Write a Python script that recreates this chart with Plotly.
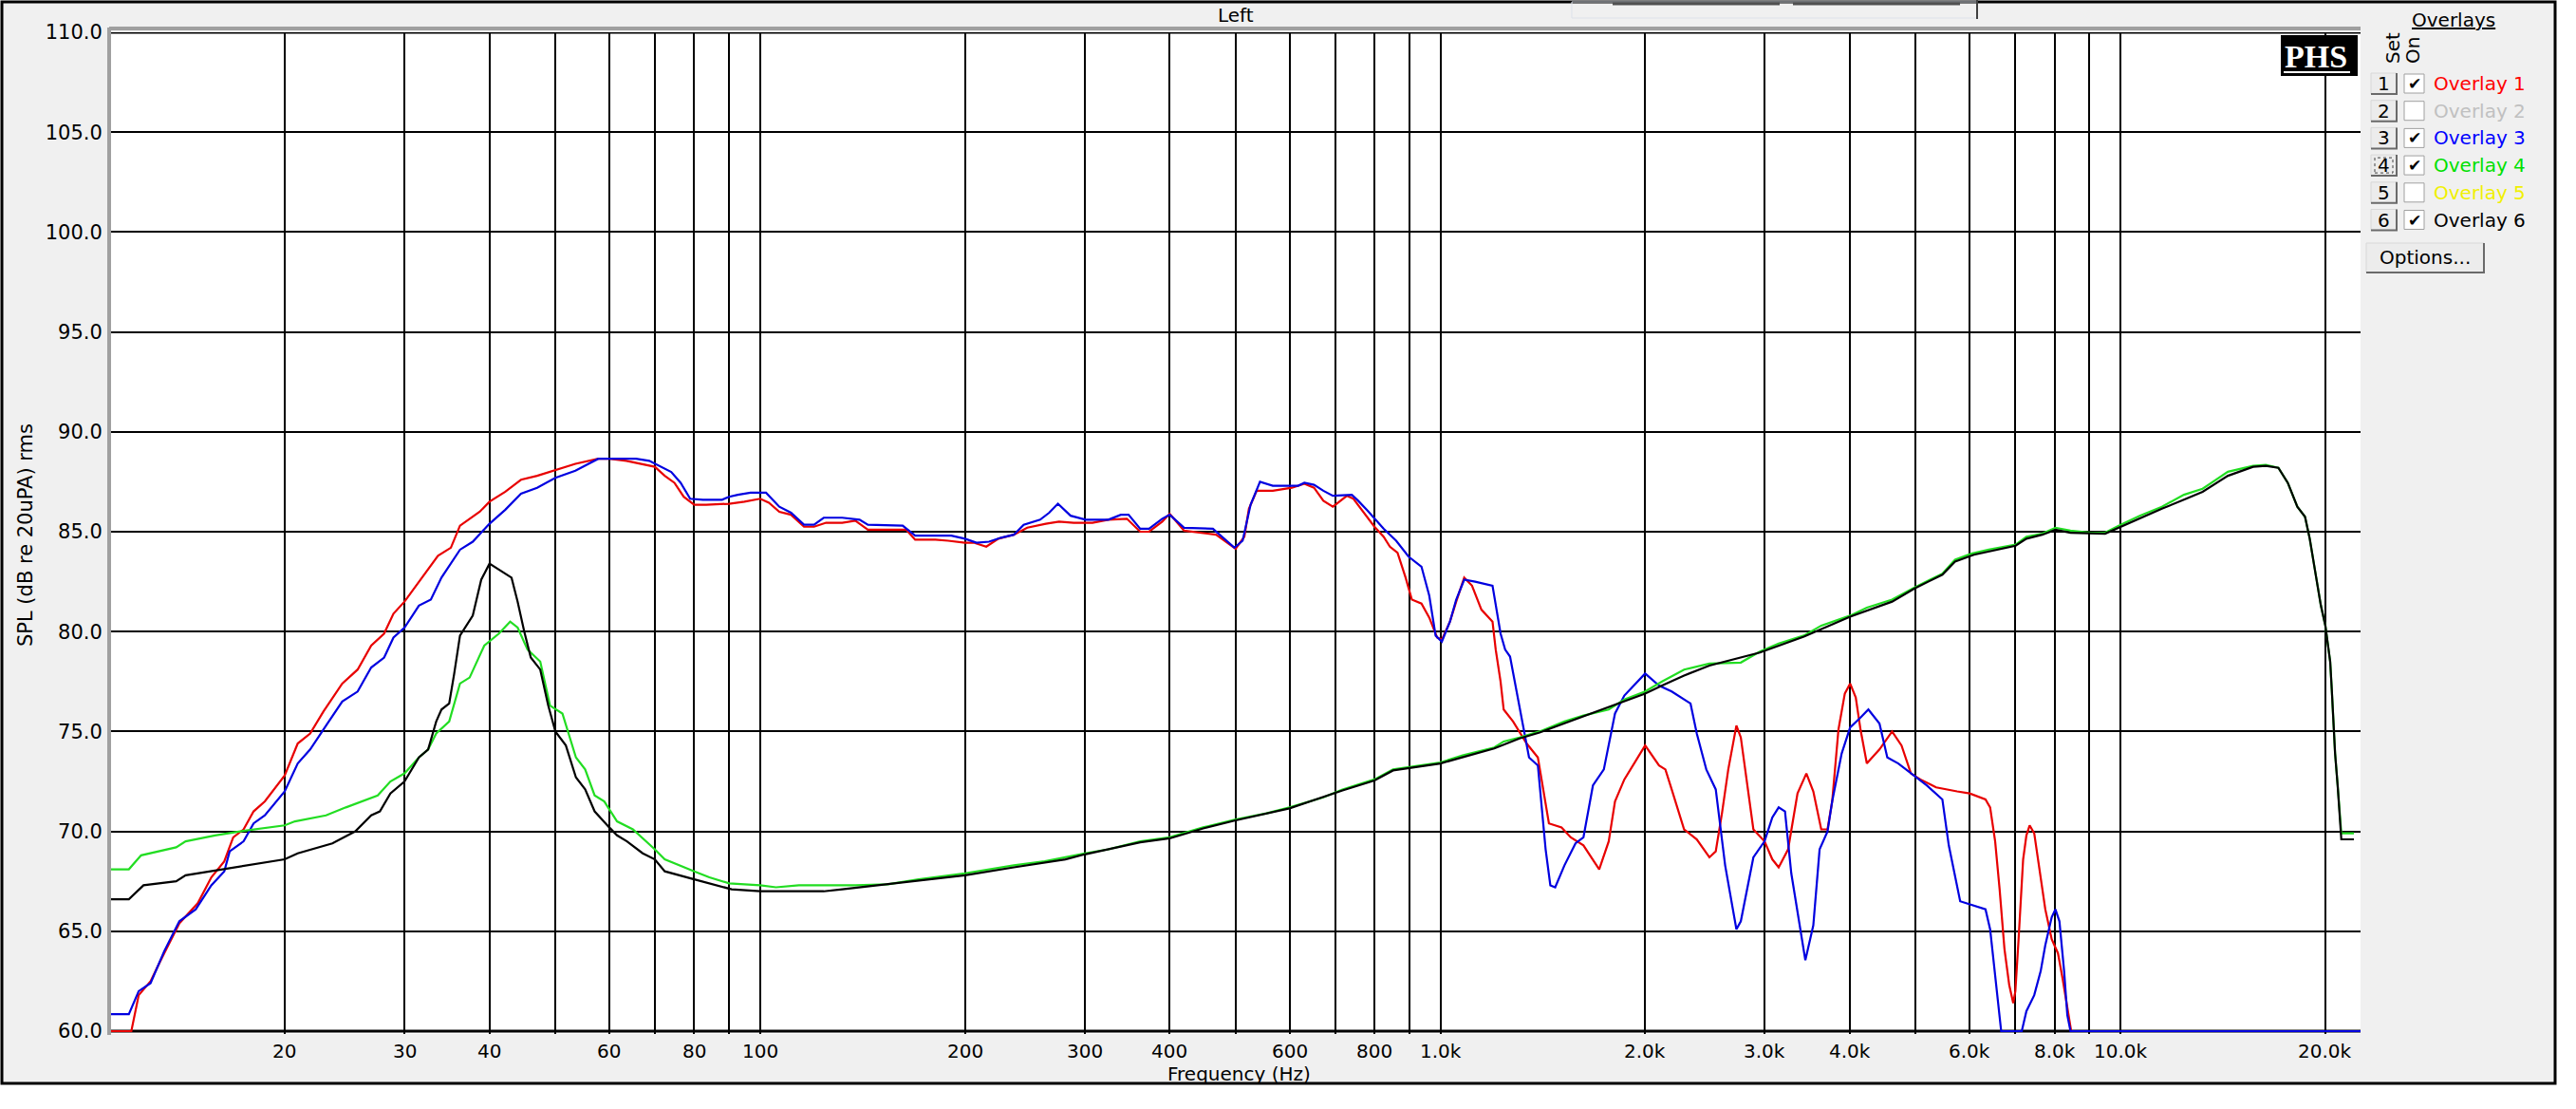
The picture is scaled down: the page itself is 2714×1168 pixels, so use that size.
import numpy as np
import plotly.graph_objects as go

# ---- data (frequency in Hz, level in dB) ----
red_f = [11.1, 11.9, 12.2, 12.7, 13.3, 14.0, 14.9, 15.6, 16.3, 16.8, 17.4, 18.0, 18.7, 20.0,
         20.9, 21.8, 22.8, 24.3, 25.6, 26.8, 28.0, 28.9, 30.0, 31.5, 33.6, 35.1, 36.2, 38.7,
         40.0, 42.2, 44.5, 47.0, 50.0, 53.5, 57.8, 60.0, 63.6, 65.7, 68.6, 70.0, 72.4, 74.8,
         77.2, 80.0, 83.3, 90.0, 94.8, 100, 103, 106.7, 111, 116, 120, 125, 132, 138, 144,
         164, 169, 181, 189, 200, 206, 215, 224, 236, 247, 263, 275, 289, 308, 325, 346, 362,
         373, 390, 400, 420, 468, 488, 500, 515, 523, 537, 567, 605, 631, 652, 673, 695, 729,
         745, 765, 800, 825, 843, 865, 889, 908, 938, 963, 989, 1005, 1033, 1055, 1084, 1113,
         1149, 1193, 1206, 1226, 1239, 1279, 1311, 1339, 1391, 1413, 1444, 1507, 1555, 1623,
         1712, 1768, 1806, 1864, 2000, 2096, 2142, 2188, 2282, 2382, 2486, 2540, 2594, 2650,
         2724, 2765, 2885, 2996, 3076, 3143, 3245, 3350, 3452, 3534, 3630, 3708, 3767, 3848,
         3932, 4003, 4080, 4146, 4236, 4421, 4614, 4764, 4918, 5078, 5356, 5750, 6000, 6330,
         6430, 6540, 6640, 6750, 6860, 6953, 7003, 7080, 7190, 7270, 7350, 7465, 7590, 7750,
         7920, 8090, 8220, 8310, 8395, 8460, 22530]
red_db = [60.0, 60.0, 61.8, 62.5, 63.9, 65.4, 66.4, 67.7, 68.5, 69.7, 70.1, 71.0, 71.5, 72.8,
          74.4, 74.9, 76.0, 77.4, 78.1, 79.3, 79.9, 80.9, 81.5, 82.5, 83.8, 84.2, 85.3, 86.0,
          86.5, 87.0, 87.6, 87.8, 88.1, 88.4, 88.65, 88.65, 88.55, 88.45, 88.3, 88.25, 87.8, 87.45,
          86.75, 86.35, 86.35, 86.4, 86.5, 86.65, 86.45, 86.0, 85.85, 85.25, 85.25, 85.45, 85.45, 85.55, 85.1,
          85.1, 84.6, 84.6, 84.55, 84.45, 84.45, 84.25, 84.65, 84.85, 85.2, 85.4, 85.5, 85.45, 85.45, 85.6, 85.65, 85.0,
          85.0, 85.5, 85.9, 85.05, 84.85, 84.4, 84.15, 84.75, 86.15, 87.05, 87.05, 87.2, 87.4, 87.2, 86.55, 86.25, 86.8,
          86.65, 86.15, 85.25, 84.75, 84.25, 83.95, 82.7, 81.6, 81.4, 80.7, 79.7, 79.6, 80.5, 81.5, 82.7, 82.3,
          81.1, 80.5, 79.1, 77.5, 76.1, 75.5, 74.9, 74.4, 73.7, 72.3, 70.4, 70.2, 69.7, 69.3,
          68.1, 69.5, 71.5, 72.6, 74.3, 73.3, 73.1, 72.1, 70.1, 69.6, 68.7, 69.0, 70.9, 73.1,
          75.3, 74.7, 70.1, 69.5, 68.6, 68.2, 69.1, 71.9, 72.9, 72.0, 70.1, 70.1, 71.5, 75.1,
          76.9, 77.4, 76.7, 75.1, 73.4, 74.1, 75.0, 74.3, 72.9, 72.6, 72.2, 72.0, 71.9, 71.6,
          71.2, 69.5, 67.1, 64.1, 62.3, 61.4, 62.0, 64.6, 68.6, 69.8, 70.3, 69.9, 68.1, 66.1,
          64.6, 63.9, 62.6, 61.6, 60.6, 60.0, 60.0]

blue_f = [11.1, 11.8, 12.2, 12.7, 13.3, 14.0, 14.8, 15.6, 16.3, 16.6, 17.4, 18.0, 18.7, 20.0,
          20.9, 21.8, 22.8, 24.3, 25.6, 26.8, 28.0, 28.9, 30.0, 31.5, 32.8, 34.0, 36.2, 37.8,
          40.0, 42.2, 44.5, 47.0, 50.0, 53.5, 57.8, 65.7, 68.7, 71.6, 74.0, 76.4, 78.9, 82.4,
          87.9, 90.0, 92.7, 96.8, 102, 106.7, 111, 116, 120, 124, 132, 140, 144, 162, 169, 191,
          200, 208, 217, 226, 236, 244, 258, 266, 274, 286, 301, 325, 339, 348, 362, 373, 390,
          400, 420, 463, 478, 498, 512, 526, 543, 567, 618, 631, 652, 673, 695, 741, 757, 782,
          825, 861, 898, 938, 963, 984, 1005, 1033, 1055, 1084, 1125, 1193, 1226, 1245, 1266,
          1307, 1328, 1350, 1391, 1413, 1428, 1451, 1475, 1522, 1580, 1623, 1676, 1739, 1806,
          1864, 2000, 2096, 2188, 2332, 2382, 2460, 2540, 2622, 2724, 2765, 2885, 2996, 3076,
          3143, 3211, 3280, 3350, 3440, 3534, 3610, 3708, 3767, 3890, 4003, 4146, 4258, 4421,
          4540, 4712, 4972, 5188, 5470, 5590, 5810, 6330, 6430, 6570, 6675, 7157, 7270, 7465,
          7630, 7750, 7920, 8020, 8130, 8260, 8350, 8440, 22530]
blue_db = [60.85, 60.85, 62.0, 62.4, 64.0, 65.5, 66.1, 67.3, 68.0, 69.0, 69.5, 70.4, 70.8, 72.0,
           73.4, 74.1, 75.1, 76.5, 77.0, 78.2, 78.7, 79.7, 80.2, 81.3, 81.6, 82.7, 84.1, 84.5,
           85.4, 86.1, 86.9, 87.2, 87.7, 88.05, 88.65, 88.65, 88.55, 88.25, 87.99, 87.45, 86.65, 86.6,
           86.6, 86.75, 86.85, 86.95, 86.95, 86.25, 85.95, 85.35, 85.35, 85.7, 85.7, 85.6, 85.35, 85.3, 84.8, 84.8,
           84.65, 84.45, 84.5, 84.7, 84.85, 85.35, 85.6, 85.95, 86.4, 85.8, 85.6, 85.6, 85.85, 85.85, 85.15, 85.15, 85.65,
           85.85, 85.2, 85.15, 84.75, 84.2, 84.55, 86.35, 87.5, 87.3, 87.3, 87.45, 87.35, 87.05, 86.8, 86.85, 86.55, 86.05,
           85.15, 84.55, 83.75, 83.25, 81.8, 79.8, 79.5, 80.5, 81.6, 82.6, 82.5, 82.3, 79.9, 79.1, 78.75,
           76.3, 74.9, 73.7, 73.3, 70.7, 69.1, 67.3, 67.2, 68.3, 69.4, 69.7, 72.3, 73.1, 75.9,
           76.8, 77.9, 77.3, 77.0, 76.4, 74.9, 73.1, 72.1, 68.3, 65.1, 65.5, 68.7, 69.5, 70.7,
           71.2, 71.0, 67.9, 65.9, 63.55, 65.3, 69.1, 70.0, 71.5, 73.9, 75.2, 75.7, 76.1, 75.4,
           73.7, 73.4, 72.8, 72.3, 71.6, 69.3, 66.5, 66.1, 65.1, 62.3, 60.0, 60.0, 61.0, 61.8,
           63.0, 64.3, 65.7, 66.1, 65.5, 63.0, 60.8, 60.0, 60.0]

green_f = [11.1, 11.8, 12.3, 13.85, 14.3, 15.8, 17.2, 20.0, 20.7, 23.0, 24.6, 27.4, 28.6, 30.0,
           31.5, 32.5, 33.4, 34.9, 36.2, 37.4, 39.3, 40.0, 41.3, 42.9, 44.0, 45.5, 47.5, 49.1,
           51.2, 53.6, 55.3, 57.1, 59.0, 61.6, 65.0, 70.0, 72.4, 80.0, 84.2, 90.0, 100, 105.5,
           114, 138, 154, 171, 200, 236, 262, 300, 325, 362, 400, 448, 500, 555, 600, 673, 718,
           800, 852, 1000, 1078, 1200, 1239, 1307, 1399, 1522, 1623, 1768, 1864, 2000, 2118,
           2282, 2486, 2765, 2949, 3143, 3423, 3630, 4003, 4236, 4614, 4972, 5470, 5710, 6034,
           6400, 7010, 7270, 7670, 8020, 8440, 9040, 9490, 10000, 10670, 11500, 12390, 13200,
           14380, 15660, 16350, 17060, 17610, 18190, 18670, 18970, 19390, 19700, 20000, 20330,
           20440, 20560, 20670, 20850, 21000, 21110, 22030]
green_db = [68.1, 68.1, 68.8, 69.2, 69.5, 69.8, 70.0, 70.3, 70.5, 70.8, 71.2, 71.8, 72.5, 72.9,
            73.7, 74.1, 74.9, 75.5, 77.4, 77.7, 79.3, 79.5, 79.9, 80.5, 80.2, 79.1, 78.5, 76.3,
            75.9, 73.7, 73.1, 71.8, 71.5, 70.5, 70.1, 69.1, 68.6, 68.0, 67.7, 67.4, 67.3, 67.2,
            67.3, 67.3, 67.35, 67.6, 67.9, 68.3, 68.5, 68.9, 69.1, 69.5, 69.7, 70.2, 70.6, 70.9, 71.2, 71.7, 72.1,
            72.6, 73.1, 73.45, 73.8, 74.2, 74.5, 74.7, 75.0, 75.5, 75.8, 76.1, 76.6, 77.0, 77.5,
            78.1, 78.4, 78.45, 79.0, 79.4, 79.8, 80.3, 80.8, 81.2, 81.6, 82.2, 82.9, 83.6, 83.9,
            84.1, 84.35, 84.75, 84.9, 85.2, 85.05, 84.95, 84.95, 85.35, 85.8, 86.25, 86.85, 87.15,
            88.0, 88.3, 88.35, 88.2, 87.45, 86.25, 85.75, 84.65, 82.7, 81.3, 80.3, 78.5,
            77.1, 75.5, 73.9, 72.3, 70.7, 69.9, 69.9]

black_f = [11.1, 11.8, 12.4, 13.85, 14.3, 16.3, 20.0, 20.9, 23.5, 25.4, 26.8, 27.6, 28.6, 30.0,
           31.5, 32.5, 33.4, 34.0, 34.9, 35.5, 36.2, 37.8, 38.9, 40.0, 43.1, 44.0, 45.0, 46.0,
           47.5, 48.8, 50.0, 51.8, 53.6, 55.3, 57.1, 60.0, 61.6, 63.7, 67.2, 70.0, 72.4, 80.0,
           84.2, 90.8, 100, 124, 132, 154, 200, 236, 281, 300, 362, 400, 448, 500, 600, 718, 800,
           852, 1000, 1200, 1307, 1399, 1623, 2000, 2118, 2282, 2486, 2765, 2949, 3423, 4003,
           4614, 4972, 5470, 5710, 6086, 7010, 7270, 7670, 8020, 8440, 9490, 10000, 11500,
           12390, 13200, 14380, 15660, 16350, 17060, 17610, 18190, 18670, 18970, 19390, 19700,
           20000, 20330, 20440, 20560, 20670, 20850, 21000, 21110, 22030]
black_db = [66.6, 66.6, 67.3, 67.5, 67.8, 68.1, 68.6, 68.9, 69.4, 70.0, 70.8, 71.0, 71.9, 72.5,
            73.7, 74.1, 75.5, 76.1, 76.4, 77.9, 79.8, 80.8, 82.6, 83.4, 82.7, 81.5, 80.0, 78.7,
            78.1, 76.3, 75.0, 74.3, 72.7, 72.1, 71.0, 70.2, 69.8, 69.5, 68.9, 68.6, 68.0, 67.6,
            67.4, 67.1, 67.0, 67.0, 67.1, 67.35, 67.8, 68.2, 68.6, 68.85, 69.45, 69.65, 70.15, 70.55, 71.15, 72.05, 72.55,
            73.05, 73.4, 74.15, 74.65, 74.95, 75.75, 76.9, 77.3, 77.8, 78.3, 78.7, 78.95, 79.75, 80.75,
            81.5, 82.15, 82.85, 83.5, 83.85, 84.3, 84.65, 84.85, 85.1, 84.95, 84.9, 85.25, 86.15,
            86.6, 87.0, 87.8, 88.25, 88.3, 88.2, 87.45, 86.25, 85.75, 84.65, 82.7, 81.3,
            80.3, 78.5, 77.1, 75.5, 73.9, 72.3, 70.7, 69.6, 69.6]

grid_f = [20, 30, 40, 50, 60, 70, 80, 90, 100, 200, 300, 400, 500, 600, 700, 800, 900,
          1000, 2000, 3000, 4000, 5000, 6000, 7000, 8000, 9000, 10000, 20000]
grid_lbl = ["20", "30", "40", "", "60", "", "80", "", "100", "200", "300", "400", "", "600", "",
            "800", "", "1.0k", "2.0k", "3.0k", "4.0k", "", "6.0k", "", "8.0k", "", "10.0k", "20.0k"]
y_ticks = [60, 65, 70, 75, 80, 85, 90, 95, 100, 105, 110]

overlay_names = ["Overlay 1", "Overlay 2", "Overlay 3", "Overlay 4", "Overlay 5", "Overlay 6"]
overlay_cols = ["#ff0000", "#c0c0c0", "#0000ff", "#00e000", "#f0f000", "#000000"]
overlay_on = [True, False, True, True, False, True]

# ---- pixel layout helpers (plot area in page pixels) ----
W, H = 2714, 1168
L, R, T, B = 117, 2487, 34, 1089      # 60 dB sits at y=1086, a few px above the bottom edge
Y_LO = 60 - 3 * 50 / (1086 - T)


def fx(X):
    return (X - L) / (R - L)


def fy(Y):
    return (B - Y) / (B - T)


FONT = "DejaVu Sans"

fig = go.Figure()
for f, db, col in [(red_f, red_db, "#e80000"), (blue_f, blue_db, "#0000e0"),
                   (green_f, green_db, "#22dd22"), (black_f, black_db, "#000000")]:
    fig.add_trace(go.Scatter(x=f, y=db, mode="lines", line=dict(color=col, width=2.2),
                             showlegend=False, hoverinfo="skip"))

shapes = []
ann = []

# app frame, then white plot area on top of it (both under the grid)
shapes.append(dict(type="rect", xref="paper", yref="paper", x0=fx(2), x1=fx(2692),
                   y0=fy(1141), y1=fy(2), fillcolor="#f0f0f0", line=dict(width=0), layer="below"))
shapes.append(dict(type="rect", xref="paper", yref="paper", x0=0, x1=1, y0=0, y1=1,
                   fillcolor="white", line=dict(width=0), layer="below"))
for yv in (60, 110):
    shapes.append(dict(type="line", xref="paper", yref="y", x0=0, x1=1, y0=yv, y1=yv,
                       line=dict(color="black", width=3), layer="below"))
shapes.append(dict(type="rect", xref="paper", yref="paper", x0=fx(2), x1=fx(2692),
                   y0=fy(1141), y1=fy(2), line=dict(color="black", width=3), layer="above"))
# top strip oddments
shapes.append(dict(type="rect", xref="paper", yref="paper", x0=fx(1656), x1=fx(2083),
                   y0=fy(19), y1=fy(2), line=dict(color="#dde2ea", width=1), layer="above"))
for a, b in [(1699, 1875), (1889, 2065)]:
    shapes.append(dict(type="line", xref="paper", yref="paper", x0=fx(a), x1=fx(b),
                       y0=fy(4), y1=fy(4), line=dict(color="#505050", width=3)))
shapes.append(dict(type="line", xref="paper", yref="paper", x0=fx(2083), x1=fx(2083),
                   y0=fy(0), y1=fy(20), line=dict(color="#404040", width=2)))

# plot border (grey, sunken look)
shapes.append(dict(type="line", xref="paper", yref="paper", x0=fx(115), x1=fx(115),
                   y0=fy(1090), y1=fy(29), line=dict(color="#a0a0a0", width=4)))
shapes.append(dict(type="line", xref="paper", yref="paper", x0=fx(115), x1=fx(R),
                   y0=fy(30), y1=fy(30), line=dict(color="#a0a0a0", width=4)))

# PHS logo
shapes.append(dict(type="rect", xref="paper", yref="paper", x0=fx(2403), x1=fx(2484),
                   y0=fy(80), y1=fy(37), fillcolor="black", line=dict(width=0), layer="above"))
shapes.append(dict(type="line", xref="paper", yref="paper", x0=fx(2406), x1=fx(2476),
                   y0=fy(76), y1=fy(76), line=dict(color="white", width=2)))
ann.append(dict(text="<b>PHS</b>", x=fx(2440), y=fy(59), font=dict(family="Liberation Serif", size=34, color="white")))

# axis titles and header
ann.append(dict(text="Left", x=fx(1302), y=fy(16), font=dict(family=FONT, size=20, color="black")))
ann.append(dict(text="Frequency (Hz)", x=fx(1305), y=fy(1131), font=dict(family=FONT, size=20, color="black")))
ann.append(dict(text="SPL (dB re 20uPA) rms", x=fx(27), y=fy(564), textangle=-90,
                font=dict(family=FONT, size=21, color="black")))

# frequency labels under the labelled grid lines
for f, lbl in zip(grid_f, grid_lbl):
    if lbl:
        ann.append(dict(text=lbl, xref="x", x=np.log10(f), y=fy(1107),
                        font=dict(family=FONT, size=20, color="black")))

# overlay panel
ann.append(dict(text="<u>Overlays</u>", x=fx(2585), y=fy(21), font=dict(family=FONT, size=20, color="black")))
ann.append(dict(text="Set", x=fx(2521), y=fy(51), textangle=-90, font=dict(family=FONT, size=20, color="black")))
ann.append(dict(text="On", x=fx(2542), y=fy(53), textangle=-90, font=dict(family=FONT, size=20, color="black")))


def button(x0, x1, y0, y1):
    shapes.append(dict(type="rect", xref="paper", yref="paper", x0=fx(x0), x1=fx(x1), y0=fy(y1), y1=fy(y0),
                       fillcolor="#ececec", line=dict(color="#d8d8d8", width=1), layer="above"))
    shapes.append(dict(type="path", xref="paper", yref="paper",
                       path=f"M {fx(x0)},{fy(y1)} L {fx(x1)},{fy(y1)} L {fx(x1)},{fy(y0)}",
                       line=dict(color="#6a6a6a", width=2)))


for i, (name, col, on) in enumerate(zip(overlay_names, overlay_cols, overlay_on)):
    yc = 88 + i * 28.7
    button(2498, 2525, yc - 11, yc + 11)
    ann.append(dict(text=str(i + 1), x=fx(2511), y=fy(yc), font=dict(family=FONT, size=20, color="black")))
    if i == 3:
        shapes.append(dict(type="rect", xref="paper", yref="paper", x0=fx(2502), x1=fx(2521),
                           y0=fy(yc + 8), y1=fy(yc - 8), line=dict(color="#404040", width=1, dash="dot")))
    shapes.append(dict(type="rect", xref="paper", yref="paper", x0=fx(2533), x1=fx(2554),
                       y0=fy(yc + 10), y1=fy(yc - 10), fillcolor="white",
                       line=dict(color="#a0a0a0", width=1), layer="above"))
    if on:
        ann.append(dict(text="<b>✔</b>", x=fx(2543.5), y=fy(yc), font=dict(family=FONT, size=17, color="black")))
    ann.append(dict(text=name, x=fx(2562), y=fy(yc), xanchor="left",
                    font=dict(family=FONT, size=20, color=col)))

button(2493, 2617, 256, 287)
ann.append(dict(text="Options...", x=fx(2555), y=fy(271), font=dict(family=FONT, size=20, color="black")))

for a in ann:
    a.setdefault("xref", "paper")
    a.setdefault("yref", "paper")
    a.setdefault("showarrow", False)
    a.setdefault("xanchor", "center")
    a.setdefault("yanchor", "middle")

fig.update_layout(
    width=W, height=H,
    margin=dict(l=L, r=W - R, t=T, b=H - B, pad=0),
    paper_bgcolor="white", plot_bgcolor="white",
    shapes=shapes, annotations=ann, showlegend=False,
    xaxis=dict(type="log", range=[np.log10(11.11), np.log10(22530)],
               tickmode="array", tickvals=grid_f, showticklabels=False,
               showgrid=True, gridcolor="black", gridwidth=2, zeroline=False, showline=False,
               ticks=""),
    yaxis=dict(range=[Y_LO, 110], tickmode="array", tickvals=y_ticks,
               ticktext=[f"{v:.1f}" for v in y_ticks],
               showgrid=True, gridcolor="black", gridwidth=2, zeroline=False, showline=False,
               ticks="outside", ticklen=4, tickcolor="rgba(0,0,0,0)",
               tickfont=dict(family=FONT, size=21, color="black")),
)

fig.write_html("out.html", config={"displayModeBar": False},
               post_script="document.body.style.margin='0';")
